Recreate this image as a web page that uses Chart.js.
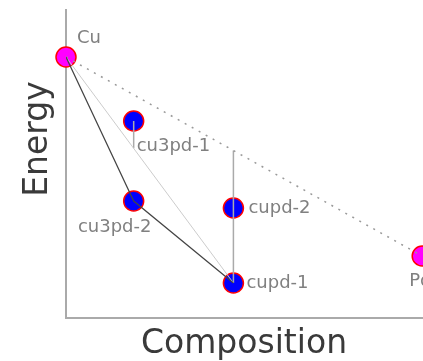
<!DOCTYPE html>
<html>
<head>
<meta charset="utf-8">
<script src="https://cdn.jsdelivr.net/npm/chart.js@4/dist/chart.umd.min.js"></script>
<style>
    html, body { margin: 0; padding: 0; overflow: hidden; background: #fff; }
</style>
</head>
<body>
<canvas id="graphique_hull" width="440" height="361"></canvas>
<script>
// structures (composition = Pd fraction, energy in arbitrary units)
const structures = ['Cu', 'cu3pd-1', 'cu3pd-2', 'cupd-2', 'cupd-1', 'Pd'];
const composition = [0, 0.19, 0.19, 0.47, 0.47, 1];
const energy = [0, -0.64, -1.44, -1.51, -2.26, -1.99];
const elements = ['Cu', 'Pd'];
const hull = ['Cu', 'cu3pd-2', 'cupd-1'];

// where each name is written relative to its marker
const labelPlace = {
    'Cu': { dx: 11, dy: -19, align: 'left' },
    'cu3pd-1': { dx: 3, dy: 25, align: 'left' },
    'cu3pd-2': { dx: -19, dy: 26, align: 'center' },
    'cupd-2': { dx: 15, dy: 0, align: 'left' },
    'cupd-1': { dx: 13, dy: 0, align: 'left' },
    'Pd': { dx: -13, dy: 25, align: 'left' }
};

function point(name) {
    const i = structures.indexOf(name);
    return { x: composition[i], y: energy[i] };
}

function yOnLine(a, b, x) {
    return a.y + (b.y - a.y) * (x - a.x) / (b.x - a.x);
}

const first = point(hull[0]);
const last = point(hull[hull.length - 1]);
const eltA = point(elements[0]);
const eltB = point(elements[1]);
const c1 = point('cu3pd-1');
const c2 = point('cupd-1');

const etiquettes = {
    id: 'etiquettes',
    afterDatasetsDraw(chart) {
        const ctx = chart.ctx;
        const xs = chart.scales.x;
        const ys = chart.scales.y;
        ctx.save();
        ctx.font = '18px "DejaVu Sans"';
        ctx.fillStyle = '#808080';
        ctx.textBaseline = 'middle';
        structures.forEach(function (name, i) {
            const p = labelPlace[name];
            ctx.textAlign = p.align;
            ctx.fillText(name, xs.getPixelForValue(composition[i]) + p.dx, ys.getPixelForValue(energy[i]) + p.dy);
        });
        ctx.restore();
    },
    afterDraw(chart) {
        const ctx = chart.ctx;
        ctx.save();
        ctx.font = '33px "DejaVu Sans"';
        ctx.fillStyle = '#3a3a3a';
        ctx.textAlign = 'center';
        ctx.textBaseline = 'alphabetic';
        ctx.fillText('Composition', 244, 353);
        ctx.translate(47, 139);
        ctx.rotate(-Math.PI / 2);
        ctx.fillText('Energy', 0, 0);
        ctx.restore();
    }
};

new Chart(document.getElementById('graphique_hull').getContext('2d'), {
    type: 'scatter',
    data: {
        datasets: [{
            label: 'structures',
            data: structures.map(point),
            backgroundColor: structures.map(n => elements.includes(n) ? '#ff00ff' : '#0000ff'),
            borderColor: '#ff0000',
            borderWidth: 1.5,
            pointRadius: 10,
            clip: false,
            order: 10
        }, {
            label: 'hull',
            data: hull.map(point),
            showLine: true,
            borderColor: '#444444',
            borderWidth: 1.2,
            pointRadius: 0,
            order: 1
        }, {
            label: 'chord',
            data: [first, last],
            showLine: true,
            borderColor: '#cccccc',
            borderWidth: 1,
            pointRadius: 0,
            order: 2
        }, {
            label: 'elements',
            data: [eltA, eltB],
            showLine: true,
            borderColor: '#999999',
            borderWidth: 1.5,
            borderDash: [2, 6],
            pointRadius: 0,
            clip: false,
            order: 1
        }, {
            label: 'v1',
            data: [c1, { x: c1.x, y: yOnLine(first, last, c1.x) }],
            showLine: true,
            borderColor: '#aaaaaa',
            borderWidth: 1.5,
            pointRadius: 0,
            order: 2
        }, {
            label: 'v2',
            data: [c2, { x: c2.x, y: yOnLine(eltA, eltB, c2.x) }],
            showLine: true,
            borderColor: '#aaaaaa',
            borderWidth: 1.5,
            pointRadius: 0,
            order: 2
        }]
    },
    options: {
        responsive: false,
        animation: false,
        layout: { autoPadding: false, padding: { left: 66, top: 10, right: 0, bottom: 43 } },
        plugins: { legend: { display: false }, tooltip: { enabled: false } },
        scales: {
            x: {
                type: 'linear',
                min: 0,
                max: 1.05,
                ticks: { display: false },
                grid: { display: false, drawTicks: false },
                border: { display: true, color: '#aaaaaa', width: 2 }
            },
            y: {
                type: 'linear',
                min: -2.61,
                max: 0.47,
                ticks: { display: false },
                grid: { display: false, drawTicks: false },
                border: { display: true, color: '#aaaaaa', width: 2 }
            }
        }
    },
    plugins: [etiquettes]
});
</script>
</body>
</html>
